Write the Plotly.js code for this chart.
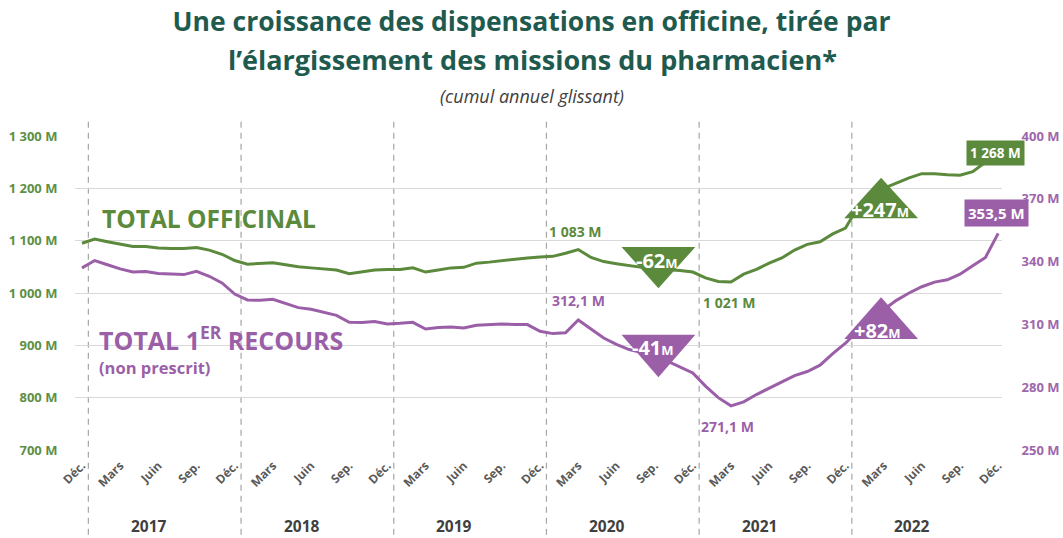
<!DOCTYPE html>
<html>
<head>
<meta charset="utf-8">
<script src="https://cdn.plot.ly/plotly-3.0.1.min.js"></script>
<style>
  html, body { margin: 0; padding: 0; background: #ffffff; }
  #chart { width: 1063px; height: 538px; }
</style>
</head>
<body>
<div id="chart"></div>
<script>
// Month index 0 = Déc. 2016 ... 72 = Déc. 2022
const months = Array.from({length: 73}, (_, i) => i);

// TOTAL OFFICINAL (millions, left axis)
const totalOfficinal = [
  1095, 1103, 1098, 1094, 1089, 1089, 1086, 1085, 1085, 1087, 1082, 1074,
  1062, 1055, 1056, 1058, 1054, 1050, 1048, 1046, 1044, 1037, 1040, 1044,
  1045, 1045, 1048, 1040, 1044, 1048, 1049, 1057, 1059, 1062, 1065, 1067,
  1069, 1070, 1076, 1083, 1068, 1060, 1056, 1052, 1049, 1046, 1045, 1043,
  1040, 1029, 1022, 1021, 1036, 1045, 1057, 1067, 1082, 1093, 1098, 1113,
  1124, 1165, 1185, 1200, 1210, 1220, 1228, 1228, 1226, 1225, 1232, 1250,
  1268
];

// TOTAL 1ER RECOURS (millions, right axis)
const totalPremierRecours = [
  337.0, 340.5, 338.5, 336.5, 335.0, 335.3, 334.3, 334.0, 333.8, 335.4, 333.0, 329.8,
  324.5, 321.7, 321.5, 322.0, 320.0, 318.0, 317.2, 315.8, 314.3, 311.0, 310.9, 311.4,
  310.2, 310.5, 311.0, 307.8, 308.5, 308.8, 308.3, 309.6, 309.8, 310.2, 310.0, 309.9,
  306.7, 305.6, 306.0, 312.1, 307.8, 303.5, 300.5, 298.0, 296.5, 295.0, 292.5, 289.8,
  286.8, 280.5, 275.0, 271.1, 273.0, 276.5, 279.5, 282.5, 285.5, 287.5, 290.5, 296.0,
  301.0, 307.0, 312.0, 317.0, 321.5, 325.0, 328.0, 330.2, 331.3, 334.0, 338.0, 342.0,
  353.5
];

// X tick labels (every 3 months)
const xTickVals = [0,3,6,9,12,15,18,21,24,27,30,33,36,39,42,45,48,51,54,57,60,63,66,69,72];
const xTickText = ['Déc.','Mars','Juin','Sep.','Déc.','Mars','Juin','Sep.','Déc.','Mars','Juin','Sep.',
                   'Déc.','Mars','Juin','Sep.','Déc.','Mars','Juin','Sep.','Déc.','Mars','Juin','Sep.','Déc.'];
const years = ['2017','2018','2019','2020','2021','2022'];

// Y ticks
const leftTickVals = [700, 800, 900, 1000, 1100, 1200, 1300];
const leftTickText = ['700 M','800 M','900 M','1 000 M','1 100 M','1 200 M','1 300 M'];
const rightTickVals = [250, 280, 310, 340, 370, 400];
const rightTickText = ['250 M','280 M','310 M','340 M','370 M','400 M'];

const GREEN = '#5b8a3c';
const PURPLE = '#9b5fa8';
const TEAL = '#1f5a4f';
const GRAY = '#595959';
const FONT = 'Open Sans, Noto Sans, sans-serif';

const traces = [
  {
    x: months, y: totalOfficinal, type: 'scatter', mode: 'lines',
    line: {color: GREEN, width: 3}, yaxis: 'y', hoverinfo: 'skip', name: 'TOTAL OFFICINAL'
  },
  {
    x: months, y: totalPremierRecours, type: 'scatter', mode: 'lines',
    line: {color: PURPLE, width: 3}, yaxis: 'y2', hoverinfo: 'skip', name: 'TOTAL 1ER RECOURS'
  }
];

const shapes = [];
// Year separators
for (let k = 0; k < 6; k++) {
  shapes.push({
    type: 'line', xref: 'x', yref: 'paper',
    x0: 0.5 + 12 * k, x1: 0.5 + 12 * k, y0: -0.27, y1: 1.057,
    line: {color: '#a6a6a6', width: 1.2, dash: '6px,5px'}, layer: 'below'
  });
}
// Triangles (variation markers)
function tri(xl, xr, yBase, yApex, color) {
  const xm = (xl + xr) / 2;
  return {
    type: 'path', xref: 'x', yref: 'y',
    path: `M ${xl} ${yBase} L ${xr} ${yBase} L ${xm} ${yApex} Z`,
    fillcolor: color, line: {width: 0}, layer: 'above'
  };
}
shapes.push(tri(42.4, 48.2, 1088, 1009, GREEN));
shapes.push(tri(42.4, 48.2, 920, 839, PURPLE));
shapes.push(tri(59.9, 65.7, 1143, 1220, GREEN));
shapes.push(tri(59.9, 65.7, 912, 992, PURPLE));

const annotations = [];
// Second title line and subtitle
annotations.push({
  text: 'l’élargissement des missions du pharmacien*', xref: 'paper', yref: 'paper',
  x: 0.493, y: 1.245, xanchor: 'center', yanchor: 'middle', showarrow: false,
  font: {family: FONT, size: 27, color: TEAL, weight: 'bold'}
});
annotations.push({
  text: '<i>(cumul annuel glissant)</i>', xref: 'paper', yref: 'paper',
  x: 0.493, y: 1.127, xanchor: 'center', yanchor: 'middle', showarrow: false,
  font: {family: FONT, size: 18, color: '#404040'}
});
// Year labels
years.forEach((yr, k) => {
  annotations.push({
    text: yr, xref: 'x', yref: 'paper', x: 5.25 + 12 * k, y: -0.242,
    xanchor: 'center', yanchor: 'middle', showarrow: false,
    font: {family: FONT, size: 15.5, color: '#404040', weight: 'bold'}
  });
});
// Series names
annotations.push({
  text: 'TOTAL OFFICINAL', xref: 'paper', yref: 'y', x: 0.027, y: 1143,
  xanchor: 'left', yanchor: 'middle', showarrow: false,
  font: {family: FONT, size: 24.5, color: GREEN, weight: 'bold'}
});
annotations.push({
  text: 'TOTAL 1<sup>ER</sup> RECOURS', xref: 'paper', yref: 'y', x: 0.024, y: 914,
  xanchor: 'left', yanchor: 'middle', showarrow: false,
  font: {family: FONT, size: 25, color: PURPLE, weight: 'bold'}
});
annotations.push({
  text: '(non prescrit)', xref: 'paper', yref: 'y', x: 0.024, y: 857,
  xanchor: 'left', yanchor: 'middle', showarrow: false,
  font: {family: FONT, size: 16.5, color: PURPLE, weight: 'bold'}
});
// Data labels
function lbl(text, x, y, color) {
  return {text, xref: 'x', yref: 'y', x, y, xanchor: 'center', yanchor: 'middle', showarrow: false,
          font: {family: FONT, size: 14, color, weight: 'bold'}};
}
annotations.push(lbl('1 083 M', 38.8, 1118, GREEN));
annotations.push(lbl('312,1 M', 39.0, 985, PURPLE));
annotations.push(lbl('1 021 M', 50.9, 981, GREEN));
annotations.push(lbl('271,1 M', 50.7, 744, PURPLE));
// Boxed end labels
function box(text, x, y, color, size) {
  return {text, xref: 'x', yref: 'y', x, y, xanchor: 'center', yanchor: 'middle', showarrow: false,
          bgcolor: color, borderpad: 3, font: {family: FONT, size, color: '#ffffff', weight: 'bold'}};
}
annotations.push(box('1 268 M', 71.8, 1267, GREEN, 13.5));
annotations.push(box('353,5 M', 71.9, 1153, PURPLE, 15));
// Triangle texts
function tlabel(sign, num, x, y) {
  return {text: sign + num + '<span style="font-size:13px">M</span>', xref: 'x', yref: 'y', x, y,
          xanchor: 'center', yanchor: 'middle', showarrow: false,
          font: {family: FONT, size: 20, color: '#ffffff', weight: 'bold'}};
}
annotations.push(tlabel('-', '62', 45.2, 1063));
annotations.push(tlabel('-', '41', 44.9, 895));
annotations.push(tlabel('+', '247', 62.7, 1159));
annotations.push(tlabel('+', '82', 62.5, 929));

const layout = {
  width: 1063, height: 538,
  margin: {l: 75, r: 61, t: 136, b: 88, pad: 0},
  paper_bgcolor: '#ffffff', plot_bgcolor: '#ffffff',
  showlegend: false,
  hovermode: false,
  title: {
    text: 'Une croissance des dispensations en officine, tirée par',
    x: 0.5, xanchor: 'center', xref: 'container', y: 0.96, yref: 'container', yanchor: 'middle',
    font: {family: FONT, size: 26.5, color: TEAL, weight: 'bold'}
  },
  xaxis: {
    range: [-0.55, 72.3], tickmode: 'array', tickvals: xTickVals, ticktext: xTickText,
    tickangle: -45, showgrid: false, zeroline: false, showline: false,
    ticks: 'outside', ticklen: 3, tickcolor: 'rgba(0,0,0,0)',
    tickfont: {family: FONT, size: 12, color: GRAY, weight: 'bold'}
  },
  yaxis: {
    range: [700, 1300], tickmode: 'array', tickvals: leftTickVals, ticktext: leftTickText,
    showgrid: true, gridcolor: '#d9d9d9', gridwidth: 1, zeroline: false, showline: false,
    ticks: 'outside', ticklen: 14, tickcolor: 'rgba(0,0,0,0)',
    tickfont: {family: FONT, size: 13, color: '#5e8f46', weight: 'bold'}
  },
  yaxis2: {
    range: [250, 400], overlaying: 'y', side: 'right', tickmode: 'array',
    tickvals: rightTickVals, ticktext: rightTickText,
    showgrid: false, zeroline: false, showline: false,
    ticks: 'outside', ticklen: 16, tickcolor: 'rgba(0,0,0,0)',
    tickfont: {family: FONT, size: 13, color: '#9e66ab', weight: 'bold'}
  },
  shapes, annotations
};

Plotly.newPlot('chart', traces, layout, {staticPlot: true, displayModeBar: false});
</script>
</body>
</html>
